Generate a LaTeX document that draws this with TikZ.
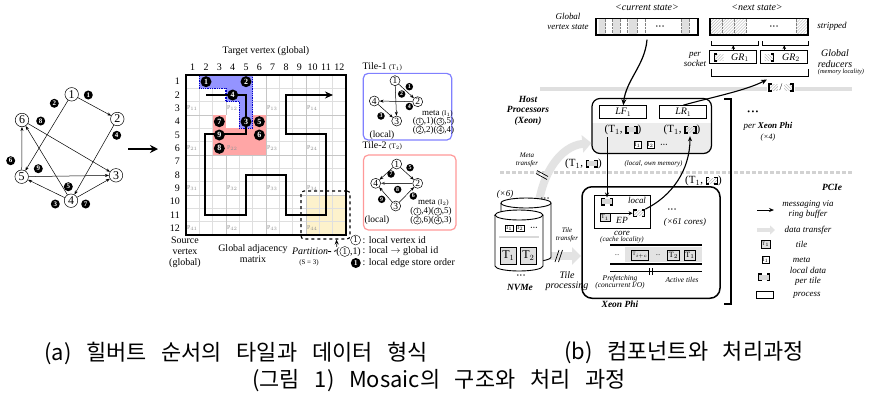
\documentclass[tikz,border=0pt]{standalone}
\usepackage{fontspec}
\setmainfont{Liberation Serif}
\newfontfamily\kr[WordSpace=3]{Noto Sans CJK KR}
\usetikzlibrary{arrows.meta,patterns,calc}
\definecolor{partyellow}{RGB}{253,242,204}
\newcommand\fs[2]{\fontsize{#1}{#2}\selectfont}
\newcommand\cn[1]{\tikz[baseline=(X.base)]\node[circle,draw,line width=0.4bp,inner sep=0,minimum size=7.5bp,font=\fs{7}{7}](X){#1};}
\newcommand\cnL[1]{\tikz[baseline=(X.base)]\node[circle,draw,line width=0.4bp,inner sep=0,minimum size=10bp,font=\fs{9}{9}](X){#1};}
\newcommand\bcn[1]{\tikz[baseline=(X.base)]\node[circle,fill=black,text=white,inner sep=0,minimum size=10bp,font=\bfseries\fs{7.5}{7.5}](X){#1};}
\newcommand\ldicon[1]{\tikz[baseline=-0.6ex,x=1bp,y=1bp]{\fill[#1] (0,-2.6) rectangle (11,2.6);\draw[line width=1.4bp] (3,-3.3)--(0,-3.3)--(0,3.3)--(3,3.3) (8,-3.3)--(11,-3.3)--(11,3.3)--(8,3.3);}}
\newcommand\halfL[1]{\tikz[baseline=-0.6ex,x=1bp,y=1bp]{\fill[#1] (0,-2.8) rectangle (9,2.8);\draw[line width=1.4bp] (3,-3.5)--(0,-3.5)--(0,3.5)--(3,3.5);}}
\newcommand\halfR[1]{\tikz[baseline=-0.6ex,x=1bp,y=1bp]{\fill[#1] (0,-2.8) rectangle (9,2.8);\draw[line width=1.4bp] (6,-3.5)--(9,-3.5)--(9,3.5)--(6,3.5);}}
\newcommand\dts{\textbullet\,\textbullet\,\textbullet}
\tikzset{
 vtx/.style={circle,draw,line width=0.5bp,fill=white,inner sep=0,minimum size=13.5bp,font=\fs{12}{12}},
 svtx/.style={circle,draw,line width=0.5bp,fill=white,inner sep=0,minimum size=10bp,font=\fs{9.5}{9.5}},
 bnum/.style={circle,fill=black,text=white,inner sep=0,minimum size=9bp,font=\bfseries\fs{7}{7}},
 gnum/.style={bnum,minimum size=11bp,font=\bfseries\fs{8}{8}},
 tnum/.style={bnum,minimum size=7.5bp,font=\bfseries\fs{6}{6}},
 edge/.style={-{Stealth[length=4bp,width=3bp]},line width=0.5bp},
 txt/.style={inner sep=0,font=\fs{10}{11}},
 it/.style={inner sep=0,font=\itshape\fs{9}{10}},
 its/.style={inner sep=0,font=\itshape\fs{7}{7.5}},
 bit/.style={inner sep=0,font=\bfseries\itshape\fs{9.5}{10.5}},
 pbox/.style={draw,line width=1bp,fill=white,inner sep=0},
 tilebox/.style={draw,line width=0.7bp,fill=gray!25,inner sep=1.2bp,font=\fs{10}{10}},
 metabox/.style={draw,line width=0.5bp,fill=white,inner sep=0.8bp,font=\fs{5.5}{5.5}},
 gband/.style={line width=8bp,draw=gray!22,-{Triangle[length=9bp,width=17bp]}},
 blk/.style={-{Stealth[length=5bp,width=4bp]},line width=1bp},
 captext/.style={inner sep=0,font=\kr\fs{22}{22}},
}
\begin{document}
\begin{tikzpicture}[x=1bp,y=-1bp]
\fill[white] (0,0) rectangle (874,401);
\useasboundingbox (0,0) rectangle (874,401);
% ---------------- left graph
\node[vtx] (g1) at (71.7,94.3) {1};
\node[vtx] (g2) at (117.3,119) {2};
\node[vtx] (g3) at (116,175.3) {3};
\node[vtx] (g4) at (71,200.7) {4};
\node[vtx] (g5) at (21.7,176.7) {5};
\node[vtx] (g6) at (22,120) {6};
\draw[edge] (g1)--(g2);
\draw[edge] (g1)--(g5);
\draw[edge] (g2)--(g4);
\draw[edge] (g4)--(g5);
\draw[edge] (g4)--(g6);
\draw[edge] (g4)--(g3);
\draw[edge] (g5)--(g3);
\draw[edge] (g5)--(g6);
\draw[edge] (g6)--(g3);
\node[bnum] (e1) at (88.3,95) {1};
\node[bnum] (e2) at (54.3,103.3) {2};
\node[bnum] (e8) at (40.7,121) {8};
\node[bnum] (e4) at (116.7,135.3) {4};
\node[bnum] (e6) at (10.7,160.7) {6};
\node[bnum] (e9) at (38.3,168.7) {9};
\node[bnum] (e5) at (68.3,186.7) {5};
\node[bnum] (e3) at (55.3,204) {3};
\node[bnum] (e7) at (85.7,204) {7};
\coordinate (arrS) at (128,149);
\coordinate (arrE) at (158,149);
\draw[line width=2.2bp,-{Stealth[length=8bp,width=8bp]}] (arrS)--(arrE);
% ---------------- matrix
\def\cs{13.3333}
\fill[partyellow] (306,195) rectangle (346,235);
\foreach \i in {1,...,11} {
  \draw[gray!25,line width=0.4bp] ({186+\i*\cs},75)--({186+\i*\cs},235);
  \draw[gray!25,line width=0.4bp] (186,{75+\i*\cs})--(346,{75+\i*\cs});
}
\foreach \i in {3,6,9} {
  \draw[gray!45,line width=1bp] ({186+\i*\cs},75)--({186+\i*\cs},235);
  \draw[gray!45,line width=1bp] (186,{75+\i*\cs})--(346,{75+\i*\cs});
}
\fill[red!35] (212.67,115) rectangle (266,155);
\fill[white] (226,115) rectangle (239.33,128.33);
\fill[blue!42] (199.33,75)--(252.67,75)--(252.67,128.33)--(239.33,128.33)--(239.33,101.67)--(226,101.67)--(226,88.33)--(199.33,88.33)--cycle;
\draw[blue!80!black,densely dotted,line width=1.3bp] (199.33,75)--(252.67,75)--(252.67,128.33)--(239.33,128.33)--(239.33,101.67)--(226,101.67)--(226,88.33)--(199.33,88.33)--cycle;
\draw[line width=1.3bp] (186,75) rectangle (346,235);
\foreach \i in {1,...,12} {
  \node[txt] at ({186+(\i-0.5)*\cs},67) {\i};
  \node[txt,anchor=east] at (180,{75+(\i-0.5)*\cs}) {\i};
}
\foreach \i in {1,...,4} \foreach \j in {1,...,4}
  \node[anchor=west,inner sep=0,text=gray!85,font=\fs{6}{6}] at ({186+(\j-1)*3*\cs+0.8},{75+(3*\i-0.5)*\cs}) {P$_{\i\j}$};
\node[txt] (tv) at (266,51) {Target vertex (global)};
\draw[line width=1.6bp,-{Stealth[length=8bp,width=7bp]}] (206,95)--(246,95)--(246,134)--(205,134)--(205,215)--(246,215)--(246,175)--(286,175)--(286,215)--(326,215)--(326,134)--(286,134)--(286,95)--(333,95);
\node[gnum] at (206,81.67) {1};
\node[gnum] at (246,81.67) {2};
\node[gnum] at (232.67,95) {4};
\node[gnum] at (246,121.67) {3};
\node[gnum] at (259.33,121.67) {5};
\node[gnum] at (219.33,121.67) {7};
\node[gnum] at (219.33,135) {9};
\node[gnum] at (259.33,135) {6};
\node[gnum] at (219.33,148.33) {8};
\node[draw,dashed,line width=1.1bp,rounded corners=3bp,minimum width=49bp,minimum height=48bp] (part) at (325.5,215) {};
\node[txt,align=center,font=\fs{10}{11}] (src) at (185,252) {Source\\vertex\\(global)};
\node[txt,align=center,font=\fs{10}{11}] (gam) at (253,253.5) {Global adjacency\\matrix};
\node[txt,font=\itshape\fs{10}{10}] (ptxt) at (310,251.5) {Partition};
\node[txt,font=\fs{7}{7}] (sval) at (309,263) {(S = 3)};
\draw[dashed,line width=0.8bp,-{Stealth[length=5bp,width=4bp]}] (ptxt.east) .. controls (337,252) .. ([xshift=11bp]part.south);
% ---------------- tiles
\node[draw=blue!50,line width=1.2bp,rounded corners=5bp,minimum width=88.5bp,minimum height=66.7bp] (t1box) at (407.5,106.7) {};
\node[txt,anchor=west] at (362.5,66.5) {Tile-1 {\fs{7}{7}(T$_1$)}};
\node[svtx] (a1) at (395,80.7) {1};
\node[svtx] (a2) at (417.7,101.7) {2};
\node[svtx] (a4) at (374.3,101) {4};
\node[svtx] (a3) at (396.7,121) {3};
\draw[edge] (a1)--(a2);
\draw[edge] (a1)--(a3);
\draw[edge] (a2)--(a4);
\draw[edge] (a4)--(a3);
\node[tnum] at (409.3,86.7) {1};
\node[tnum] at (401.7,94) {2};
\node[tnum] at (409.3,106.5) {4};
\node[tnum] at (381,116) {3};
\node[txt,font=\fs{9}{9}] at (437.5,114) {meta {\fs{7}{7}(I$_1$)}};
\node[txt,font=\fs{9}{9}] at (433.5,121.7) {(\cn{1},1)(\cn{3},5)};
\node[txt,font=\fs{9}{9}] at (433.5,130) {(\cn{2},2)(\cn{4},4)};
\node[txt,font=\fs{9.5}{9.5}] at (382,135) {(local)};

\node[draw=red!40,line width=1.2bp,rounded corners=5bp,minimum width=92.5bp,minimum height=75bp] (t2box) at (409.7,192.5) {};
\node[txt,anchor=west] at (362.5,146) {Tile-2 {\fs{7}{7}(T$_2$)}};
\node[svtx] (b1) at (396.7,164) {1};
\node[svtx] (b4) at (375.7,183.3) {4};
\node[svtx] (b2) at (417.7,183.3) {2};
\node[svtx] (b3) at (395.7,206) {3};
\draw[edge] (b1)--(b4);
\draw[edge] (b1)--(b2);
\draw[edge,line width=1bp,draw=black!75] (b2)--(b4);
\draw[edge] (b3)--(b2);
\draw[edge] (b3)--(b4);
\node[tnum] at (391,174) {7};
\node[tnum] at (410,167.7) {5};
\node[tnum] at (397.7,189.5) {8};
\node[tnum] at (413.3,196) {6};
\node[tnum] at (381.7,199.3) {9};
\node[txt,font=\fs{9}{9}] at (433.5,202.7) {meta {\fs{7}{7}(I$_2$)}};
\node[txt,font=\fs{9}{9}] at (431,211.7) {(\cn{1},4)(\cn{3},5)};
\node[txt,font=\fs{9}{9}] at (431,220.5) {(\cn{2},6)(\cn{4},3)};
\node[txt,font=\fs{9.5}{9.5}] at (377,220.5) {(local)};
% legend a
\node[txt,anchor=east] at (361,240) {\cnL{1}};
\node[txt,anchor=west] at (362.5,240) {: local vertex id};
\node[txt,anchor=east] at (361,251.5) {(\cnL{1},1)};
\node[txt,anchor=west] at (362.5,251.5) {: local $\rightarrow$ global id};
\node[txt,anchor=east] at (361,263) {\bcn{1}};
\node[txt,anchor=west] at (362.5,263) {: local edge store order};
% ---------------- right: state bars
\fill[gray!25] (598.5,18.5) rectangle (605.5,35) (613,18.5) rectangle (620,35) (628.5,18.5) rectangle (637,35) (681.5,18.5) rectangle (689,35);
\foreach \x in {605.5,612,620,627,637,645,681.5,689} \draw[densely dotted,line width=0.4bp,gray] (\x,18.5)--(\x,35);
\node[draw,line width=1.3bp,minimum width=102bp,minimum height=16.5bp,inner sep=0] (cur) at (647,26.75) {};
\node[inner sep=0,font=\fs{6}{6}] at (660,27) {\dts};
\node[it,font=\itshape\fs{10}{10}] at (647,7.5) {<current state>};
\foreach \a/\b in {710/722,722/734,734/746,796/808} \fill[pattern=north east lines,pattern color=gray!55] (\a,18.5) rectangle (\b,35);
\foreach \x in {722,734,746,796} \draw[densely dotted,line width=0.4bp,gray] (\x,18.5)--(\x,35);
\node[draw,line width=1.3bp,minimum width=98bp,minimum height=16.5bp,inner sep=0] (nxt) at (759,26.75) {};
\node[inner sep=0,font=\fs{6}{6}] at (774,27) {\dts};
\node[it,font=\itshape\fs{10}{10}] at (757,7.5) {<next state>};
\node[it] at (832,26.7) {stripped};
\node[it,align=center] at (568,21) {Global\\vertex state};
\draw[line width=0.9bp] (711,41)--(711,45.5)--(758,45.5)--(758,41);
\draw[line width=0.9bp] (762.5,41)--(762.5,45.5)--(808,45.5)--(808,41);
\node[pbox,minimum width=46.7bp,minimum height=13.3bp] (gr1) at (733.3,57.3) {};
\node[pbox,minimum width=47.3bp,minimum height=13.3bp] (gr2) at (784.3,57.3) {};
\node[inner sep=0] at (718.5,57.3) {\halfL{pattern=north east lines,pattern color=gray!60}};
\node[inner sep=0,font=\itshape\fs{10}{10}] at (740,57.8) {GR$_1$};
\node[inner sep=0] at (769.5,57.3) {\halfR{pattern=north west lines,pattern color=gray!60}};
\node[inner sep=0,font=\itshape\fs{10}{10}] at (791,57.8) {GR$_2$};
\draw[blk,line width=0.9bp,-{Stealth[length=4bp,width=3.5bp]}] (gr1.north) -- ++(0,-5);
\draw[blk,line width=0.9bp,-{Stealth[length=4bp,width=3.5bp]}] (gr2.north) -- ++(0,-5);
\node[it,align=center] at (695,59) {per\\socket};
\node[it,align=center,font=\itshape\fs{10}{11}] at (835,59) {Global\\reducers};
\node[its,font=\itshape\fs{6.5}{6.5}] at (841,72) {(memory locality)};
\draw[line width=0.9bp] (711,68.5)--(711,76)--(808,76)--(808,68.5);
\coordinate (grb) at (767,79.5);
\draw[gray!25,line width=3.5bp] (540,89)--(852,89);
\node[fill=white,inner sep=1bp,font=\fs{10}{10}] (sicon) at (781,87.5) {\halfL{pattern=north east lines,pattern color=gray!60}\,/\,\halfR{pattern=north west lines,pattern color=gray!60}};
% ---------------- host
\begin{scope}
\clip[rounded corners=8bp] (592,98.5) rectangle (711.5,153.5);
\fill[gray!15] (592,123) rectangle (711.5,153.5);
\end{scope}
\node[draw,line width=1.2bp,rounded corners=8bp,minimum width=119.5bp,minimum height=55bp] (host) at (651.75,126) {};
\node[pbox,minimum width=46.7bp,minimum height=12.6bp,font=\itshape\fs{10}{10}] (lf1) at (623.3,112) {LF$_1$};
\node[pbox,minimum width=46.7bp,minimum height=12.6bp,font=\itshape\fs{10}{10}] (lr1) at (683.3,112) {LR$_1$};
\node[inner sep=0,font=\fs{11}{11}] (tl1) at (623,130) {(T$_1$, \ldicon{gray!30})};
\node[inner sep=0,font=\fs{11}{11}] (tr1) at (682,130) {(T$_1$, \ldicon{pattern=north east lines,pattern color=gray!70})};
\node[metabox] (mi1) at (637.7,145) {I$_1$};
\node[metabox] (mi2) at (650.7,145) {I$_2$};
\node[inner sep=0,font=\fs{5}{5}] at (664,145.5) {\dts};
\node[bit,align=center] at (528,110.5) {Host\\Processors\\(Xeon)};
\node[its] at (653.5,164) {(local, own memory)};
\node[inner sep=0,font=\fs{11}{11}] at (583.5,164) {(T$_1$, \ldicon{gray!30})};
\node[its,align=center] at (527,160) {Meta\\transfer};
\draw[blk,line width=1.2bp,-{Stealth[length=6bp,width=5bp]}] ([yshift=-4bp]cur.south) .. controls (645,65) and (626,80) .. (lf1.north);
\draw[blk,line width=1.1bp,-{Stealth[length=6bp,width=5bp]}] ([xshift=0bp]lr1.north) .. controls (708,98) and (745,91) .. (grb);
% PCIe line
\draw[gray!35,line width=2.5bp,dash pattern=on 4bp off 2bp] (500,172.5)--(853,172.5);
% meta band
\draw[gband] (538,210) .. controls (541,175) and (560,146) .. ([yshift=-17bp]host.west);
\draw[line width=0.7bp] (537,170.5)--(548,176.5) (536,173.5)--(547,179.5);
% tile band
\draw[gband] (540,256) -- (581,256);
\draw[line width=0.7bp] (555,262)--(559,250) (558.5,262)--(562.5,250);
% ---------------- NVMe
\draw[fill=white,line width=0.9bp] (501,203) -- (501,257) arc[start angle=180,end angle=360,x radius=25bp,y radius=5bp] -- (551,203) arc[start angle=0,end angle=180,x radius=25bp,y radius=5bp] -- cycle;
\draw[line width=0.9bp] (501,203) arc[start angle=180,end angle=360,x radius=25bp,y radius=5bp];
\draw[fill=white,line width=0.9bp] (495,215) -- (495,266) arc[start angle=180,end angle=360,x radius=24bp,y radius=5bp] -- (543,215) arc[start angle=0,end angle=180,x radius=24bp,y radius=5bp] -- cycle;
\draw[line width=0.9bp] (495,215) arc[start angle=180,end angle=360,x radius=24bp,y radius=5bp];
\node[metabox] (ni1) at (509.3,228.3) {I$_1$};
\node[metabox] (ni2) at (520.3,228.3) {I$_2$};
\node[inner sep=0,font=\fs{5}{5}] at (534,228.5) {\dts};
\draw[gray!30,line width=1.5bp] (499,237)--(539,237);
\node[tilebox,minimum width=16bp,minimum height=17bp,font=\fs{12}{12}] (nt1) at (508.3,255.5) {T$_1$};
\node[tilebox,minimum width=16bp,minimum height=17bp,font=\fs{12}{12}] (nt2) at (528.3,255.5) {T$_2$};
\node[inner sep=0,font=\fs{6}{6}] at (521,276) {\dts};
\node[inner sep=0,font=\fs{6}{6}] at (545,199) {\dts};
\node[it] at (505,194.5) {(\texttimes 6)};
\node[bit] at (520,287) {NVMe};
\node[its,align=center] at (567,235) {Tile\\transfer};
\node[it,align=center,font=\itshape\fs{10}{10.5}] at (567,281) {Tile\\processing};
% ---------------- Xeon Phi
\node[draw,line width=1.5bp,rounded corners=10bp,minimum width=138bp,minimum height=111.5bp] (xphi) at (651,242.5) {};
\node[bit] at (620,304.5) {Xeon Phi};
\node[draw,line width=0.9bp,minimum width=56bp,minimum height=33.3bp] (core) at (622,211.7) {};
\node[inner sep=0] (lg) at (607,201.7) {\ldicon{gray!30}};
\node[it] at (637,200) {local};
\node[inner sep=0] (lh) at (639,213.3) {\ldicon{pattern=north east lines,pattern color=gray!70}};
\node[tilebox,font=\fs{6}{6}] (ct1) at (605,217.5) {T$_1$};
\draw[blk,-{Stealth[length=4bp,width=4bp]},line width=1.2bp] (ct1.east |- lh.west) ++(1,0) -- (lh.west);
\node[it,font=\itshape\fs{9.5}{9.5}] at (622,220) {EP};
\node[it] at (622,233) {core};
\node[its] at (622,239.5) {(cache locality)};
\node[inner sep=0,font=\fs{6}{6}] at (672,210) {\dts};
\node[it] at (685,222) {(\texttimes 61 cores)};
\fill[gray!22] (625,247) rectangle (702,262);
\draw[line width=1.3bp] (610,245)--(702,245) (610,264)--(702,264);
\node[inner sep=0,font=\fs{6}{6}] at (617,255) {...};
\node[tilebox,font=\fs{5}{5},minimum height=10bp] at (640,255) {T$_{i+c}$};
\node[inner sep=0,font=\fs{6}{6}] at (658,255) {...};
\node[tilebox,font=\fs{8}{8},minimum height=10bp] at (673.5,255) {T$_2$};
\node[tilebox,font=\fs{8}{8},minimum height=10bp] at (690,255) {T$_1$};
\draw[line width=0.7bp] (610,271.5)--(702,271.5);
\draw[line width=0.9bp] (649.5,268)--(649.5,275) (652,268)--(652,275);
\node[its,align=center,font=\itshape\fs{7.5}{7}] at (620,282) {Prefetching\\(concurrent I/O)};
\node[its,font=\itshape\fs{7.5}{7.5}] at (682,279.5) {Active tiles};
\draw[blk] (lg.north |- tl1.south) ++(0,2) -- (lg.north);
\draw[blk,line width=1.1bp] (lh.north east) .. controls (672,196) and (690,170) .. ([xshift=8bp,yshift=-1bp]tr1.south);
\node[inner sep=0,font=\fs{11}{11}] at (703.5,181) {(T$_1$, \ldicon{pattern=north east lines,pattern color=gray!70})};
% bracket
\draw[line width=1.5bp] (724,99)--(731,99)--(731,304)--(724,304);
\node[inner sep=0,font=\fs{8}{8}] at (753,113) {\dts};
\node[it] at (768,126.7) {per \textbf{Xeon Phi}};
\node[its,font=\itshape\fs{8}{8}] at (768,137.3) {(\texttimes 4)};
\node[bit] at (832,187) {PCIe};
% legend b
\coordinate (l1a) at (757,210); \coordinate (l1b) at (774,210);
\draw[blk] (l1a)--(l1b);
\node[it,align=center] at (808,209.5) {messaging via\\ring buffer};
\coordinate (l2a) at (757,230); \coordinate (l2b) at (775,230);
\draw[line width=4bp,draw=gray!22,-{Triangle[length=5bp,width=9bp]}] (l2a)--(l2b);
\node[it] at (808,230) {data transfer};
\node[tilebox,font=\fs{5}{5}] at (765.7,244.3) {T$_1$};
\node[it] at (801.7,244.3) {tile};
\node[metabox] at (765.7,260) {I$_1$};
\node[it] at (801.7,260) {meta};
\node[inner sep=0] at (764,277.3) {\ldicon{gray!30}};
\node[it,align=center] at (808,276) {local data\\per tile};
\node[draw,line width=1bp,minimum width=17bp,minimum height=6.6bp,inner sep=0] at (764.7,295) {};
\node[it] at (807,295) {process};
% ---------------- captions
\node[captext] (capa) at (236,353) {(a) 힐버트 순서의 타일과 데이터 형식};
\node[captext] (capb) at (684,353) {(b) 컴포넌트와 처리과정};
\node[captext] (capm) at (439,381) {(그림 1) Mosaic의 구조와 처리 과정};
\end{tikzpicture}
\end{document}
